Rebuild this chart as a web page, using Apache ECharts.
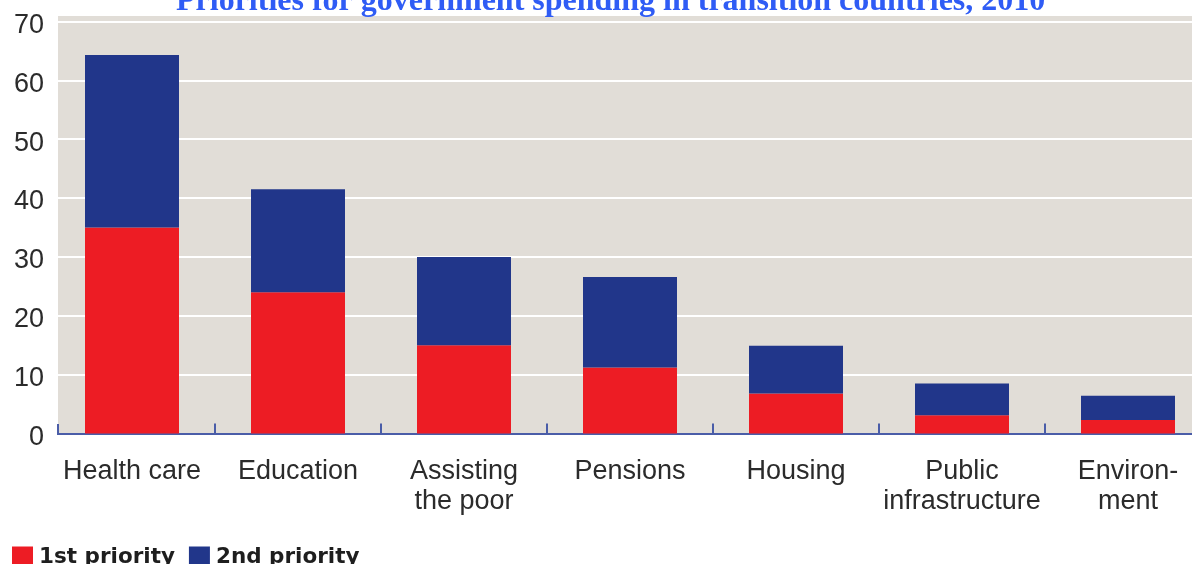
<!DOCTYPE html>
<html>
<head>
<meta charset="utf-8">
<script src="https://cdn.jsdelivr.net/npm/echarts@6/dist/echarts.min.js"></script>
<style>
  html, body { margin: 0; padding: 0; background: #ffffff; }
  #chart { width: 1192px; height: 564px; }
</style>
</head>
<body>
<div id="chart"></div>
<script>
// Share of respondents naming each area as a spending priority (%)
const categories = ['Health care', 'Education', 'Assisting\nthe poor', 'Pensions', 'Housing', 'Public\ninfrastructure', 'Environ-\nment'];
const firstPriority = [35, 24, 15, 11.2, 6.8, 3.1, 2.3];
const secondPriority = [29.3, 17.5, 15, 15.4, 8.1, 5.4, 4.1];
const seriesNames = ['1st priority', '2nd priority'];
const yTicks = { min: 0, max: 70, interval: 10 };
const titleText = 'Priorities for government spending in transition countries, 2010';

const RED = '#ed1c24';
const BLUE = '#21368a';
const PANEL = '#e1ddd7';
const AXIS = '#4a5da8';

const chart = echarts.init(document.getElementById('chart'), null, { renderer: 'canvas' });

chart.setOption({
  animation: false,
  backgroundColor: '#ffffff',
  title: {
    text: titleText,
    left: 171,
    top: -19,
    textStyle: {
      fontFamily: '"Liberation Serif", "Times New Roman", serif',
      fontWeight: 'bold',
      fontSize: 32,
      color: '#2f5cf5'
    }
  },
  graphic: [
    // panel background behind the plot
    { type: 'rect', z: -10, silent: true,
      shape: { x: 58, y: 16, width: 1134, height: 418 },
      style: { fill: PANEL } },
    // tidy the left end of the category axis
    { type: 'rect', z: 100, silent: true,
      shape: { x: 46, y: 420, width: 11, height: 18 },
      style: { fill: '#ffffff' } },
    { type: 'line', z: 101, silent: true,
      shape: { x1: 58, y1: 435, x2: 58, y2: 424 },
      style: { stroke: AXIS, lineWidth: 2 } }
  ],
  legend: {
    left: 7,
    top: 541,
    padding: 5,
    itemWidth: 21,
    itemHeight: 21,
    itemGap: 14,
    icon: 'rect',
    data: seriesNames,
    textStyle: {
      fontFamily: '"DejaVu Sans", Verdana, sans-serif',
      fontWeight: 'bold',
      fontSize: 21.5,
      color: '#1e1e1e',
      padding: [0, 0, 5, 1]
    }
  },
  grid: {
    left: 49,
    width: 1162,
    top: 21.4,
    bottom: 130.5,
    containLabel: false,
    outerBoundsMode: 'none'
  },
  xAxis: {
    type: 'category',
    data: categories,
    axisLine: { show: true, lineStyle: { color: AXIS, width: 2 } },
    axisTick: { show: true, inside: true, length: 10, lineStyle: { color: AXIS, width: 2 } },
    axisLabel: {
      margin: 23,
      interval: 0,
      fontFamily: '"Liberation Sans", Arial, sans-serif',
      fontSize: 27,
      lineHeight: 30,
      color: '#2b2b2b',
      align: 'center'
    },
    splitLine: { show: false }
  },
  yAxis: {
    type: 'value',
    min: yTicks.min,
    max: yTicks.max,
    interval: yTicks.interval,
    axisLine: { show: false },
    axisTick: { show: false },
    axisLabel: {
      margin: 5,
      fontFamily: '"Liberation Sans", Arial, sans-serif',
      fontSize: 27,
      color: '#2b2b2b',
      verticalAlign: 'top',
      lineHeight: 8
    },
    splitLine: { show: true, lineStyle: { color: '#ffffff', width: 2 } }
  },
  series: [
    {
      name: seriesNames[0],
      type: 'bar',
      stack: 'total',
      barWidth: 94,
      data: firstPriority,
      itemStyle: { color: RED }
    },
    {
      name: seriesNames[1],
      type: 'bar',
      stack: 'total',
      barWidth: 94,
      data: secondPriority,
      itemStyle: { color: BLUE }
    }
  ]
});
</script>
</body>
</html>
